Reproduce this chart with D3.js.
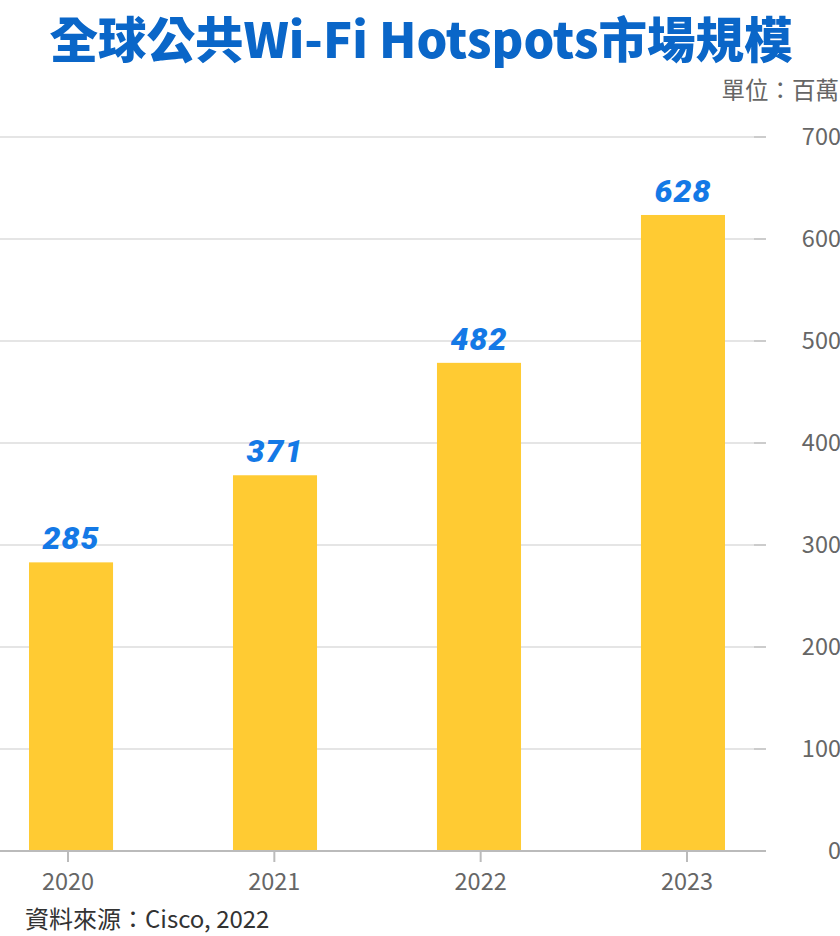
<!DOCTYPE html>
<html><head><meta charset="utf-8">
<script src="https://cdn.jsdelivr.net/npm/d3@7"></script>
<style>html,body{margin:0;padding:0;background:#fff;}svg{display:block;}</style>
</head><body>
<script>
const years = ["2020","2021","2022","2023"];
const values = [285, 371, 482, 628];
const yTicks = [0,100,200,300,400,500,600,700];
const titleText = "全球公共Wi-Fi Hotspots市場規模";
const unitText = "單位：百萬";
const sourceText = "資料來源：Cisco, 2022";

const W = 840, H = 936;
const cjk = "'Noto Sans CJK TC','Noto Sans',sans-serif";
const svg = d3.select("body").append("svg").attr("width", W).attr("height", H);

const y = d3.scaleLinear().domain([0,700]).range([851,137]);
const yBar = d3.scaleLinear().domain([0,705]).range([851,137]);
const x = d3.scaleBand().domain(years).range([29,725]).paddingInner(0.588).paddingOuter(0);
const xt = d3.scalePoint().domain(years).range([68,687]);

// gridlines
svg.append("g").selectAll("line").data(yTicks.filter(d=>d>0)).join("line")
  .attr("x1",0).attr("x2",754).attr("y1",d=>y(d)).attr("y2",d=>y(d))
  .attr("stroke","#dddddd").attr("stroke-width",1.5);
svg.append("g").selectAll("line").data(yTicks.filter(d=>d>0)).join("line")
  .attr("x1",754).attr("x2",766).attr("y1",d=>y(d)).attr("y2",d=>y(d))
  .attr("stroke","#bbbbbb").attr("stroke-width",1.5);

// y labels
svg.append("g").selectAll("text").data(yTicks).join("text")
  .attr("x",841).attr("y",d=>y(d)+8).attr("text-anchor","end")
  .attr("font-family",cjk).attr("font-size",23.5).attr("fill","#666")
  .text(d=>d);

// bars
svg.append("g").selectAll("rect").data(values).join("rect")
  .attr("x",(d,i)=>x(years[i])).attr("width",x.bandwidth())
  .attr("y",d=>yBar(d)).attr("height",d=>yBar(0)-yBar(d))
  .attr("fill","#FFCB33");

// value labels
svg.append("g").selectAll("text").data(values).join("text")
  .attr("x",(d,i)=>x(years[i])+x.bandwidth()/2).attr("y",d=>yBar(d)-13)
  .attr("text-anchor","middle")
  .attr("font-family","Roboto,'Open Sans',sans-serif").attr("font-style","italic").attr("font-weight",900)
  .attr("font-size",32).attr("letter-spacing",1).attr("fill","#1479E6")
  .text(d=>d);

// x axis
svg.append("line").attr("x1",0).attr("x2",766).attr("y1",851).attr("y2",851)
  .attr("stroke","#bbbbbb").attr("stroke-width",2);
svg.append("g").selectAll("line").data(years).join("line")
  .attr("x1",d=>xt(d)).attr("x2",d=>xt(d))
  .attr("y1",851).attr("y2",862).attr("stroke","#bbbbbb").attr("stroke-width",2);
svg.append("g").selectAll("text").data(years).join("text")
  .attr("x",d=>xt(d)).attr("y",890).attr("text-anchor","middle")
  .attr("font-family",cjk).attr("font-size",23.5).attr("fill","#666")
  .text(d=>d);

// title
svg.append("text").attr("x",421).attr("y",58).attr("text-anchor","middle")
  .attr("font-family",cjk).attr("font-weight",900).attr("font-size",48.5)
  .attr("fill","#0A66C8").text(titleText);

// unit
svg.append("text").attr("x",839).attr("y",99).attr("text-anchor","end")
  .attr("font-family",cjk).attr("font-size",23.5).attr("fill","#666").text(unitText);

// source
svg.append("text").attr("x",25).attr("y",928)
  .attr("font-family",cjk).attr("font-size",24).attr("fill","#333").text(sourceText);
</script>
</body></html>
